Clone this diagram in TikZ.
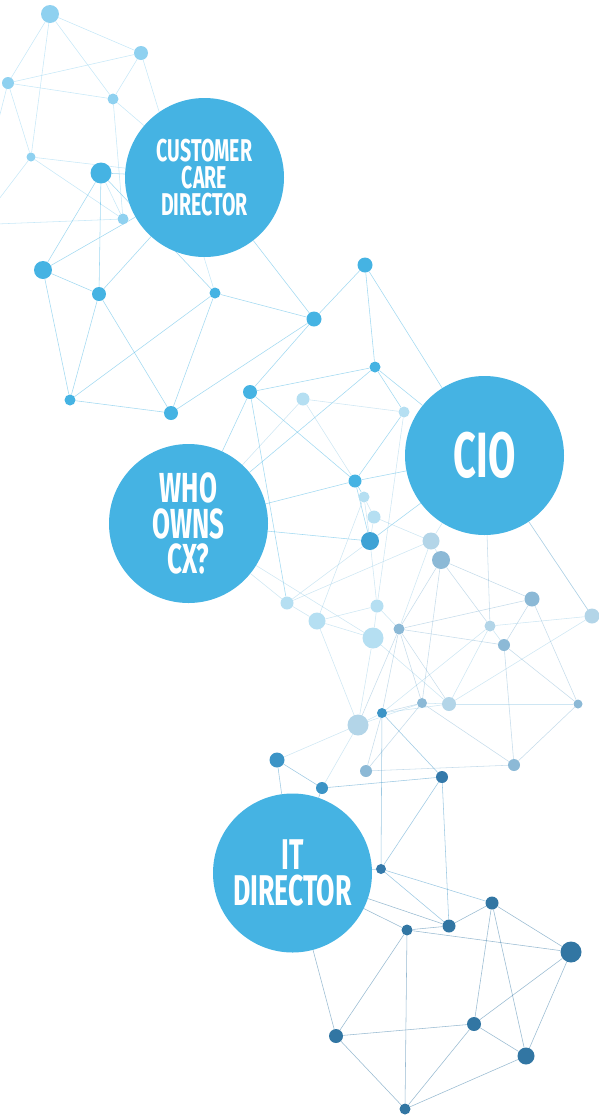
\documentclass[tikz,border=0pt]{standalone}
\usepackage{fontspec}
\usetikzlibrary{backgrounds}
\newfontfamily\badgefont[FakeStretch=0.62]{Fira Sans}
\definecolor{ringblue}{HTML}{45B3E3}
\definecolor{deepring}{HTML}{3EA2D5}
\definecolor{skydot}{HTML}{8FD1F0}
\definecolor{palecyan}{HTML}{B5DFF2}
\definecolor{paledot}{HTML}{B3D5E8}
\definecolor{greydot}{HTML}{8CB9D6}
\definecolor{deepdot}{HTML}{3C94C6}
\definecolor{darkdot}{HTML}{3479AA}
\definecolor{navydot}{HTML}{3276A3}

\begin{document}
\begin{tikzpicture}[
  x=1pt,y=-1pt,
  dot/.style={circle,inner sep=0pt,draw=none},
  hub/.style={circle,fill=ringblue,inner sep=0pt,minimum size=159pt,
    text=white,align=center},
  link/.style={line width=0.55pt,opacity=0.5},
  skyline/.style={link,draw=skydot},
  ringline/.style={link,draw=ringblue},
  paleline/.style={link,draw=paledot!80!ringblue},
  greyline/.style={link,draw=greydot},
  deepline/.style={link,draw=deepdot},
  navyline/.style={link,draw=navydot}
]
\useasboundingbox (0,0) rectangle (598,1117);

% dots, name/x/y/diameter
\foreach \n/\x/\y/\d in {t1/50/14/18,t2/141/53/14,t3/8/83/12,t4/113/99/11,
    t5/31/157/9,t6/123/219/11}
  \node[dot,fill=skydot,minimum size=\d pt] (\n) at (\x,\y) {};
\foreach \n/\x/\y/\d in {m1/101/173/21,m2/43/270/18,m3/99/294/14,m4/215/293/11,
    m5/70/400/11,m6/171/413/14,m7/365/265/15,m8/314/319/15,m9/375/367/11,
    m10/250/392/14,m11/355/481/13}
  \node[dot,fill=ringblue,minimum size=\d pt] (\n) at (\x,\y) {};
\node[dot,fill=deepring,minimum size=18pt] (m12) at (370,541) {};
\foreach \n/\x/\y/\d in {p1/303/399/13,p2/404/412/11,p3/364/497/11,p4/374/517/13,
    p7/287/603/13,p8/317/621/17,p9/377/606/13,p10/373/638/21}
  \node[dot,fill=palecyan,minimum size=\d pt] (\n) at (\x,\y) {};
\foreach \n/\x/\y/\d in {p5/431/541/17,p11/592/616/15,p12/490/626/11,
    p13/449/704/14,p14/358/725/21}
  \node[dot,fill=paledot,minimum size=\d pt] (\n) at (\x,\y) {};
\foreach \n/\x/\y/\d in {p6/441/560/18,g1/399/629/11,g2/532/599/15,g3/504/645/12,
    g4/422/703/10,g5/578/704/9,g6/366/771/12,g7/514/765/12}
  \node[dot,fill=greydot,minimum size=\d pt] (\n) at (\x,\y) {};
\foreach \n/\x/\y/\d in {d1/382/713/10,d2/277/760/15,d3/322/788/12}
  \node[dot,fill=deepdot,minimum size=\d pt] (\n) at (\x,\y) {};
\foreach \n/\x/\y/\d in {d4/442/777/12,d5/381/869/10}
  \node[dot,fill=darkdot,minimum size=\d pt] (\n) at (\x,\y) {};
\foreach \n/\x/\y/\d in {b1/492/903/13,b2/449/926/13,b3/407/930/11,b4/571/952/21,
    b5/336/1036/14,b6/474/1024/14,b7/526/1056/17,b8/405/1109/11}
  \node[dot,fill=navydot,minimum size=\d pt] (\n) at (\x,\y) {};
\coordinate (westA) at (-4,130);
\coordinate (westB) at (-4,203);
\coordinate (westC) at (-4,224);

% the four badges
\node[hub,font=\badgefont\bfseries\fontsize{31.5}{27}\selectfont] (ccd) at (204.5,177.5)
  {CUSTOMER\\CARE\\DIRECTOR};
\node[hub,font=\badgefont\bfseries\fontsize{64}{64}\selectfont] (cio) at (484.5,455.5)
  {CIO};
\node[hub,font=\badgefont\bfseries\fontsize{42}{35.5}\selectfont] (who) at (188.5,523.5)
  {WHO\\OWNS\\CX?};
\node[hub,font=\badgefont\bfseries\fontsize{43}{36}\selectfont] (it) at (292.5,873)
  {IT\\DIRECTOR};

% links
\begin{scope}[on background layer]
\foreach \a/\b in {t1/t2,t1/t3,t1/t5,t1/t4,t2/t3,t2/t4,t2/m4,t3/t4,t3/t5,t3/westA,
    t4/t6,t4/ccd,t5/t6,t5/ccd,t5/westB,t6/westC,t6/m1}
  \draw[skyline] (\a) -- (\b);
\foreach \a/\b in {m1/ccd,m1/m2,m1/m3,m1/m4,m2/m3,m2/ccd,m2/m5,m3/m5,m3/m6,m3/ccd,
    m5/m6,m5/m4,m6/m4,m4/m8,m6/m8,ccd/m8,m8/m10,m8/m7,m7/m9,m7/cio,m9/m10,m9/who,
    m9/p2,m9/cio,m10/who,m10/m11,m10/p7,m11/who,m11/p2,m11/cio,m11/p3,m11/m12,
    m12/cio,m12/who}
  \draw[ringline] (\a) -- (\b);
\foreach \a/\b in {p1/p2,p1/who,p1/m11,p2/p9,p3/p4,p3/m12,p4/m12,p4/p5,p5/cio,
    p5/p6,p5/p7,p5/g1,p7/p8,p7/who,p7/m12,p8/p10,p8/p9,p8/p3,p8/p14,p9/p10,p9/m12,
    p9/g1,p10/who,p10/p14,p10/p13,p11/p12,p11/p13,p11/cio,p12/g3,p12/p13,p12/d1,
    p13/g5,p13/d1,p13/g4,p14/g4,p14/d1,p14/d3,p14/d2}
  \draw[paleline] (\a) -- (\b);
\foreach \a/\b in {p6/p12,p6/g2,p6/g4,p6/g1,g1/g2,g1/g3,g1/g4,g1/p13,g1/p14,g1/d1,
    g2/g3,g2/g5,g3/g5,g3/g7,g4/g6,g4/g7,g4/d1,g5/g7,g6/g7,g6/d1,cio/p12,cio/p11}
  \draw[greyline] (\a) -- (\b);
\foreach \a/\b in {d1/d5,d1/d4,d2/d3,d2/it,d3/d4,d3/it,d4/d5,d4/b2,d5/b2,d5/b1,d5/it}
  \draw[deepline] (\a) -- (\b);
\foreach \a/\b in {b1/b2,b1/b4,b1/b6,b1/b7,b2/b3,b2/it,b3/b4,b3/b5,b3/b8,b3/it,
    b4/b6,b4/b7,b5/b6,b5/b8,b5/it,b6/b7,b6/b8,b7/b8}
  \draw[navyline] (\a) -- (\b);
\end{scope}
\end{tikzpicture}
\end{document}
